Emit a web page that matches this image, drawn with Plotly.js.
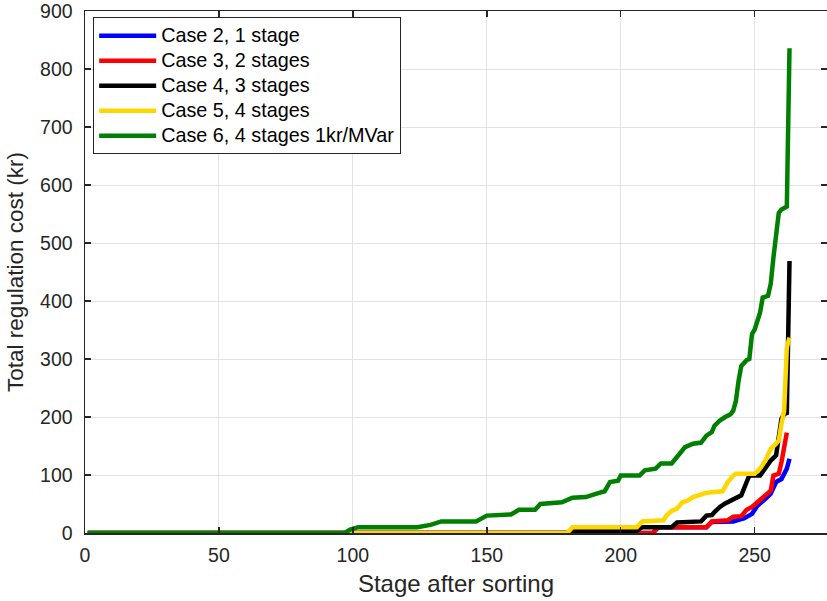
<!DOCTYPE html>
<html>
<head>
<meta charset="utf-8">
<script src="https://cdn.plot.ly/plotly-3.0.1.min.js"></script>
<style>
html,body{margin:0;padding:0;background:#fff;}
#chart{width:827px;height:601px;}
.legendtext{font-size:19.8px !important;}
</style>
</head>
<body>
<div id="chart"></div>
<script>
// Case 2, 1 stage (blue)
const blueX = [1, 212, 214, 232, 234, 240, 242, 245, 246, 249, 251, 254, 256, 258, 260, 262, 263];
const blueY = [0, 0, 10, 10, 19, 19, 20, 24, 25, 33, 47, 59, 68, 88, 93, 111, 128];
// Case 3, 2 stages (red)
const redX = [1, 212, 214, 232, 234, 240, 242, 245, 247, 249, 251, 253, 256, 257, 259, 260, 261, 262];
const redY = [0, 0, 10, 10, 20, 22, 28, 29, 40, 45, 53, 61, 73, 99, 102, 122, 150, 173];
// Case 4, 3 stages (black)
const blackX = [1, 180, 182, 206, 208, 219, 221, 230, 232, 234, 235, 237, 239, 241, 242, 245, 247, 248, 252, 254, 256, 258, 259, 260, 261, 262, 263];
const blackY = [0, 0, 4, 4, 10, 10, 18, 20, 30, 31, 36, 45, 51, 56, 59, 65, 88, 99, 99, 113, 125, 134, 171, 197, 205, 207, 469];
// Case 5, 4 stages (yellow)
const yellowX = [1, 180, 182, 206, 208, 216, 217, 219, 221, 223, 225, 227, 231, 233, 238, 240, 242, 243, 250, 252, 254, 256, 258, 259, 260, 261, 262, 263];
const yellowY = [0, 0, 10, 10, 20, 22, 30, 38, 42, 53, 56, 62, 68, 70, 72, 88, 99, 102, 102, 111, 125, 145, 154, 160, 188, 211, 320, 337];
// Case 6, 4 stages 1kr/MVar (green)
const greenX = [1, 97, 99, 102, 124, 129, 133, 146, 150, 159, 162, 168, 170, 178, 182, 187, 191, 194, 196, 199, 200, 207, 209, 213, 215, 219, 221, 224, 227, 230, 232, 234, 235, 237, 239, 241, 242, 243, 244, 245, 247, 248, 249, 250, 252, 253, 255, 256, 257, 259, 260, 261, 262, 263];
const greenY = [0, 0, 6, 10, 10, 14, 20, 20, 30, 32, 40, 40, 50, 53, 61, 62, 68, 72, 88, 90, 99, 99, 108, 111, 120, 120, 131, 148, 154, 156, 168, 174, 185, 194, 200, 205, 211, 228, 263, 288, 298, 300, 343, 351, 380, 406, 409, 430, 475, 552, 558, 561, 563, 836];

const names = ["Case 2, 1 stage", "Case 3, 2 stages", "Case 4, 3 stages", "Case 5, 4 stages", "Case 6, 4 stages 1kr/MVar"];
const xTicks = [0, 50, 100, 150, 200, 250];
const yTicks = [0, 100, 200, 300, 400, 500, 600, 700, 800, 900];

const colors = ["#0000ff", "#ff0000", "#000000", "#ffd700", "#008000"];
const xs = [blueX, redX, blackX, yellowX, greenX];
const ys = [blueY, redY, blackY, yellowY, greenY];

const traces = xs.map((x, i) => ({
  x: x, y: ys[i], name: names[i], type: "scatter", mode: "lines",
  line: {color: colors[i], width: 4.5}
}));

const axisCol = "#262626";
const layout = {
  width: 827, height: 601,
  margin: {l: 85, r: 0, t: 11, b: 68, pad: 0},
  paper_bgcolor: "#ffffff", plot_bgcolor: "#ffffff",
  font: {family: "Liberation Sans, Arial, sans-serif", color: axisCol},
  showlegend: true,
  legend: {
    x: 0.011, y: 0.988, xanchor: "left", yanchor: "top",
    bgcolor: "#ffffff", bordercolor: axisCol, borderwidth: 1,
    font: {size: 16.9, color: "#000000", family: "Liberation Sans, Arial, sans-serif"},
    itemwidth: 57, tracegroupgap: 0, entrywidth: 318, entrywidthmode: "pixels"
  },
  xaxis: {
    range: [0, 277], tickvals: xTicks, ticktext: xTicks.map(String),
    showgrid: true, gridcolor: "#e3e3e3", gridwidth: 1,
    zeroline: false, showline: true, linecolor: axisCol, linewidth: 1.5, mirror: "ticks",
    ticks: "inside", ticklen: 6, tickwidth: 1.5, tickcolor: axisCol,
    tickfont: {size: 19.5, color: axisCol}, ticklabelstandoff: 4, ticklabeloverflow: "allow",
    title: {text: "Stage after sorting", font: {size: 24, color: axisCol}, standoff: 10}
  },
  yaxis: {
    range: [0, 900.2], tickvals: yTicks, ticktext: yTicks.map(String),
    showgrid: true, gridcolor: "#e3e3e3", gridwidth: 1,
    zeroline: false, showline: true, linecolor: axisCol, linewidth: 1.5, mirror: "ticks",
    ticks: "inside", ticklen: 6, tickwidth: 1.5, tickcolor: axisCol,
    tickfont: {size: 19.5, color: axisCol}, ticklabelstandoff: 7, ticklabeloverflow: "allow",
    title: {text: "Total regulation cost (kr)", font: {size: 22.5, color: axisCol}, standoff: 10}
  }
};

Plotly.newPlot("chart", traces, layout, {displayModeBar: false, staticPlot: true});
</script>
</body>
</html>
